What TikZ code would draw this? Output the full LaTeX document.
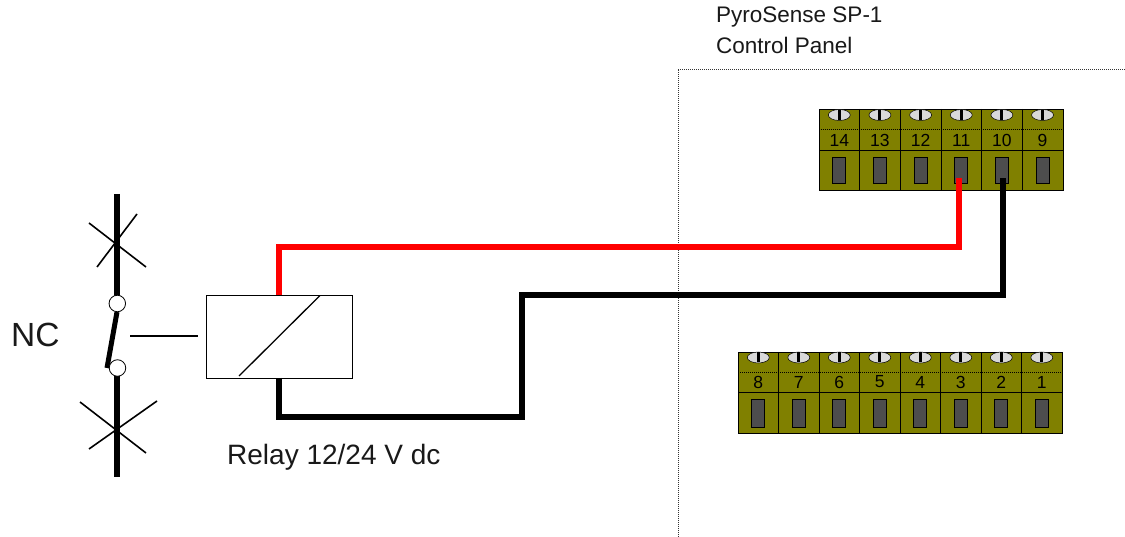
\documentclass[tikz,border=0pt]{standalone}
\usepackage{fontspec}
\setmainfont{Liberation Sans}
\definecolor{termolive}{RGB}{128,128,0}
\definecolor{termgrey}{RGB}{77,77,77}
\definecolor{screwgrey}{RGB}{217,217,217}
\tikzset{
  x=1pt,y=-1pt,
  cell/.style={draw=black,line width=0.8pt,fill=termolive},
  sep/.style={draw=black,line width=0.8pt},
  dotsep/.style={draw=black,line width=0.7pt,dash pattern=on 1pt off 1pt},
  slot/.style={draw=black,line width=0.7pt,fill=termgrey,minimum width=13pt,minimum height=26pt,inner sep=0pt,outer sep=0pt},
  screw/.style={draw=black,line width=0.5pt,fill=screwgrey,ellipse,minimum width=22pt,minimum height=11pt,inner sep=0pt},
  termnum/.style={font=\fontsize{17.5pt}{19pt}\selectfont,text=black,inner sep=0pt},
  wire/.style={line width=5.5pt,line cap=butt,line join=miter},
  bus/.style={line width=6pt,line cap=butt},
  label/.style={anchor=west,inner sep=0pt,text=black!90},
}
\usetikzlibrary{shapes.geometric}
\begin{document}
\begin{tikzpicture}
\useasboundingbox (0,0) rectangle (1125,537);
\fill[white] (0,0) rectangle (1125,537);
% panel boundary
\coordinate (pb1) at (678,537);
\coordinate (pb2) at (678,69);
\coordinate (pb3) at (1125,69);
\draw[line width=0.8pt,dash pattern=on 1pt off 1pt,black!80] (pb1) -- (pb2) -- (pb3);
\node[label,font=\fontsize{22.5pt}{25pt}\selectfont] (title1) at (716,17) {PyroSense SP-1};
\node[label,font=\fontsize{22.5pt}{25pt}\selectfont] (title2) at (716,45) {Control Panel};
% upper terminal block
\path[cell] (819,109) rectangle (1063,190);
\draw[dotsep] (819,129) -- (1063,129);
\draw[sep] (819,150) -- (1063,150);
\foreach \i/\n in {0/14,1/13,2/12,3/11,4/10,5/9}{
  \pgfmathsetmacro{\xc}{839.3+40.65*\i}
  \pgfmathsetmacro{\xr}{819+40.65*(\i+1)}
  \ifnum\i<5 \draw[sep] (\xr,109) -- (\xr,190);\fi
  \node[screw] (s\n) at (\xc,115) {};
  \fill[black] (\xc-1.5,110) rectangle (\xc+1.5,120);
  \node[termnum] (n\n) at (\xc,140) {\n};
  \node[slot] (t\n) at (\xc,170) {};
}
% lower terminal block
\path[cell] (738,352) rectangle (1062,433);
\draw[dotsep] (738,372) -- (1062,372);
\draw[sep] (738,392) -- (1062,392);
\foreach \i/\n in {0/8,1/7,2/6,3/5,4/4,5/3,6/2,7/1}{
  \pgfmathsetmacro{\xc}{758.3+40.5*\i}
  \pgfmathsetmacro{\xr}{738+40.5*(\i+1)}
  \ifnum\i<7 \draw[sep] (\xr,352) -- (\xr,433);\fi
  \node[screw] (s\n) at (\xc,357.5) {};
  \fill[black] (\xc-1.5,352.5) rectangle (\xc+1.5,362.5);
  \node[termnum] (n\n) at (\xc,382) {\n};
  \node[slot,minimum height=28pt] (t\n) at (\xc,413) {};
}
% switch
\coordinate (busTop) at (117.3,194);
\coordinate (busTopEnd) at (117.3,297);
\coordinate (busBotStart) at (117.3,374);
\coordinate (busBot) at (117.3,477);
\draw[bus] (busTop) -- (busTopEnd);
\draw[bus] (busBotStart) -- (busBot);
\draw[line width=1.6pt] (89,223) -- (146,267);
\draw[line width=1.6pt] (137,214) -- (97,267);
\draw[line width=1.6pt] (80,402) -- (146,453);
\draw[line width=1.6pt] (157,401) -- (89,449);
\coordinate (blade1) at (117,312);
\coordinate (blade2) at (107,368);
\draw[line width=5pt] (blade1) -- (blade2);
\node[circle,draw=black,line width=0.8pt,fill=white,minimum size=16.5pt,inner sep=0pt] (c1) at (117.3,303.5) {};
\node[circle,draw=black,line width=0.8pt,fill=white,minimum size=16.5pt,inner sep=0pt] (c2) at (117.5,368) {};
\node[label,font=\fontsize{33.5pt}{36pt}\selectfont] (nc) at (11,335) {NC};
% relay
\node[draw=black,line width=0.9pt,fill=white,minimum width=146pt,minimum height=83pt,inner sep=0pt,outer sep=0pt] (relay) at (279,336.5) {};
\draw[line width=1.3pt] (320,295.5) -- (239,376);
\coordinate (linkA) at (130,336);
\draw[line width=1.4pt] (linkA) -- (198,336);
\node[label,font=\fontsize{28pt}{30pt}\selectfont] (rl) at (227,457) {Relay 12/24 V dc};
% wires
\coordinate (r1) at (279,247);
\coordinate (r2) at (959,247);
\coordinate (r3) at (959,178.5);
\draw[wire,red] (relay.north) -- (r1) -- (r2) -- (r3);
\coordinate (b1) at (279,417);
\coordinate (b2) at (522,417);
\coordinate (b3) at (522,295);
\coordinate (b4) at (1003,295);
\coordinate (b5) at (1003,178.5);
\draw[wire,black] (relay.south) -- (b1) -- (b2) -- (b3) -- (b4) -- (b5);
\end{tikzpicture}
\end{document}
